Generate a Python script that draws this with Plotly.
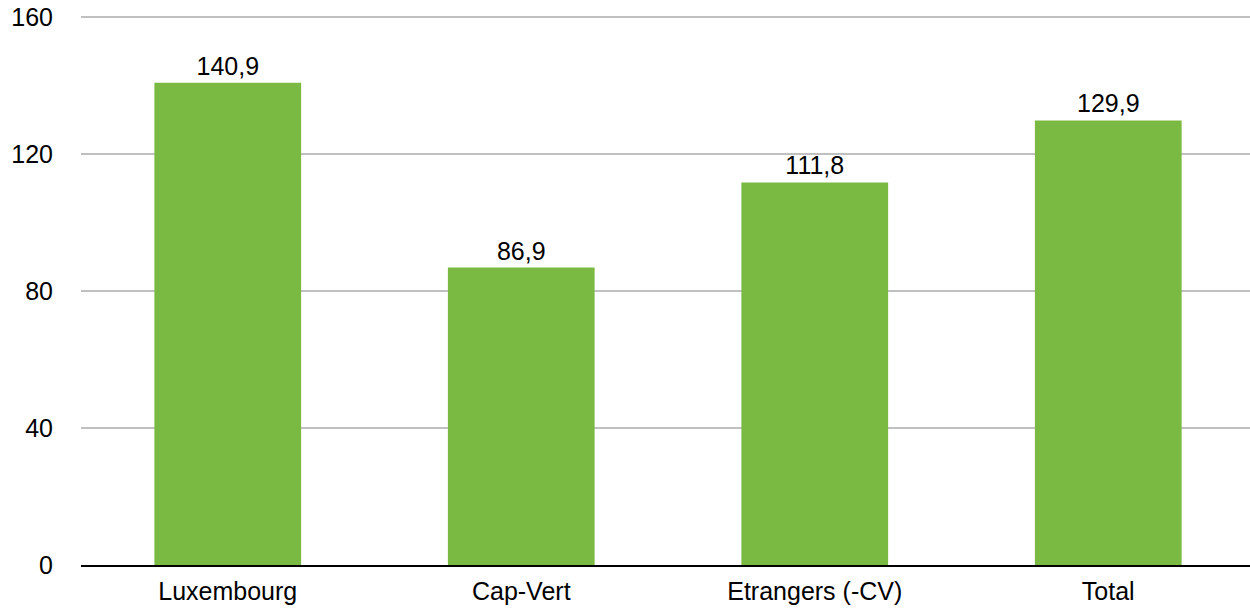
import plotly.graph_objects as go

categories = ["Luxembourg", "Cap-Vert", "Etrangers (-CV)", "Total"]
values = [140.9, 86.9, 111.8, 129.9]
y_ticks = [0, 40, 80, 120, 160]

fig = go.Figure(go.Bar(
    x=categories, y=values,
    marker=dict(color="#7aba43", line=dict(width=0)),
    width=0.5,
    texttemplate="%{y:.1f}", textposition="outside",
    textfont=dict(size=25, color="#000000"),
    cliponaxis=False,
))

fig.update_layout(
    width=1255, height=612,
    margin=dict(l=81, r=0, t=14, b=47),
    plot_bgcolor="white", paper_bgcolor="white",
    separators=", ",
    font=dict(family="Liberation Sans, Arial, sans-serif", size=25, color="#000000"),
    showlegend=False,
    xaxis=dict(showline=True, linecolor="#000000", linewidth=2, showgrid=False,
               ticks="", ticklabelstandoff=3, automargin=False),
    yaxis=dict(range=[0, 161], tickvals=y_ticks, showgrid=True, gridcolor="#c0c0c0",
               gridwidth=2, zeroline=False, showline=False, ticks="",
               ticklabelstandoff=27, automargin=False),
)

fig.write_html("out.html", config={"displayModeBar": False},
               post_script="document.body.style.margin='0';document.body.style.overflow='hidden';")
